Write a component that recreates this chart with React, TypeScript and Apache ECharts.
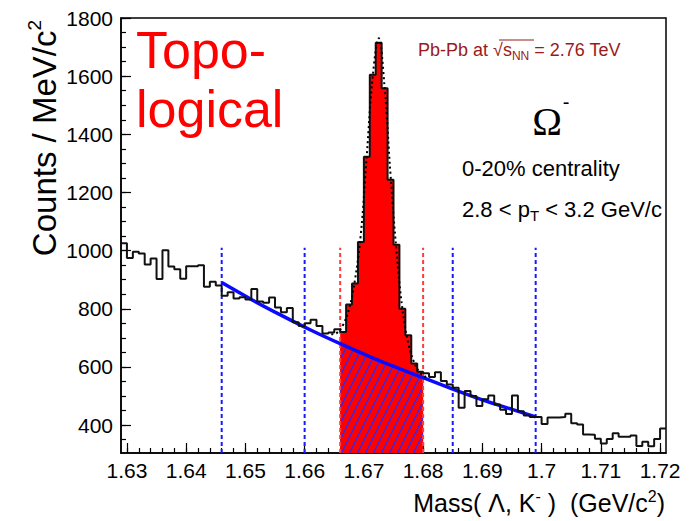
import React, { useEffect, useRef } from 'react';
import * as echarts from 'echarts';

// ---- data ----
const binStart = 1.629;
const binWidth = 0.001;
const counts = [
  1025, 975, 996, 990, 952, 973, 902, 1001, 945, 936,
  903, 946, 946, 950, 876, 893, 880, 845, 857, 835,
  840, 832, 868, 825, 821, 839, 804, 788, 803, 754,
  741, 750, 762, 741, 715, 718, 730, 720, 815, 887,
  1030, 1323, 1605, 1715, 1558, 1244, 1020, 800, 709, 612,
  583, 578, 565, 582, 552, 540, 528, 460, 517, 500,
  466, 489, 502, 471, 453, 438, 502, 448, 433, 428,
  428, 404, 426, 426, 428, 439, 406, 402, 368, 367,
  353, 337, 352, 372, 360, 360, 364, 328, 343, 327,
  352, 388,
];
const signalFirstBin = 37;
const signalLastBin = 50;

const bgFitX = [1.646, 1.651, 1.656, 1.661, 1.666, 1.673, 1.68, 1.685, 1.69, 1.695, 1.699];
const bgFitY = [890, 832, 778, 727, 680, 618, 563, 524, 487, 454, 428];

const totalFitX = [1.6645, 1.6655, 1.6665, 1.6675, 1.6685, 1.6695, 1.6705, 1.6715, 1.6725, 1.6735, 1.6745, 1.6755, 1.6765, 1.6775, 1.6785, 1.6795, 1.6805];
const totalFitY = [712, 718, 745, 800, 900, 1060, 1330, 1600, 1730, 1560, 1260, 1000, 800, 680, 615, 580, 565];

const signalEdges = [1.666, 1.68];
const sidebandEdges = [1.646, 1.66, 1.685, 1.699];
const edgeLineTop = 1010;

const xTickLabels = [1.63, 1.64, 1.65, 1.66, 1.67, 1.68, 1.69, 1.7, 1.71, 1.72];
const yTickLabels = [400, 600, 800, 1000, 1200, 1400, 1600, 1800];

const X_MIN = 1.629;
const X_MAX = 1.721;
const Y_MIN = 304;
const Y_MAX = 1800;

const FONT = '"Liberation Sans", Arial, Helvetica, sans-serif';

const r4 = (v: number) => Math.round(v * 10000) / 10000;

export default function App() {
  const ref = useRef<HTMLDivElement>(null);

  useEffect(() => {
    if (!ref.current) return;
    const chart = echarts.init(ref.current, undefined, { renderer: 'svg' });

    // histogram outline (bin left edges + closing edge)
    const histData: number[][] = counts.map((c, i) => [r4(binStart + i * binWidth), c]);
    histData.push([r4(binStart + counts.length * binWidth), counts[counts.length - 1]]);

    const sigData: number[][] = [];
    for (let i = signalFirstBin; i <= signalLastBin; i++) sigData.push([r4(binStart + i * binWidth), counts[i]]);
    sigData.push([r4(binStart + (signalLastBin + 1) * binWidth), counts[signalLastBin]]);

    const bgData = bgFitX.map((x, i) => [x, bgFitY[i]]);
    const hatchData = bgData.filter((p) => p[0] >= signalEdges[0] - 1e-9 && p[0] <= signalEdges[1] + 1e-9);
    const totalData = totalFitX.map((x, i) => [x, totalFitY[i]]);

    const xMinor: number[] = [];
    for (let v = 1.63; v <= 1.7201; v += 0.002) xMinor.push(r4(v));
    const yMinor: number[] = [];
    for (let v = 350; v <= 1800; v += 50) yMinor.push(v);

    // hatch tile
    const TW = 8;
    const TH = 16;
    const tile = document.createElement('canvas');
    tile.width = TW;
    tile.height = TH;
    const ctx = tile.getContext('2d')!;
    ctx.fillStyle = '#ff0000';
    ctx.fillRect(0, 0, TW, TH);
    ctx.strokeStyle = '#2a2aff';
    ctx.lineWidth = 1.4;
    for (const dx of [-TW, 0, TW]) {
      ctx.beginPath();
      ctx.moveTo(dx - 0.5, TH + 1);
      ctx.lineTo(dx + TW + 0.5, -1);
      ctx.stroke();
    }

    const vline = (x: number, color: string) => ({
      type: 'line',
      data: [[x, Y_MIN], [x, edgeLineTop]],
      showSymbol: false,
      symbol: 'none',
      silent: true,
      z: 4,
      lineStyle: { color, width: 2, type: [4, 3] },
    });

    const xLabelFmt = (v: number) => String(parseFloat(Number(v).toFixed(3)));
    const yLabelFmt = (v: number) => String(Math.round(Number(v)));

    const axisCommonX = {
      type: 'value',
      min: X_MIN,
      max: X_MAX,
      position: 'bottom',
      splitLine: { show: false },
    };
    const axisCommonY = {
      type: 'value',
      min: Y_MIN,
      max: Y_MAX,
      position: 'left',
      splitLine: { show: false },
    };

    chart.setOption({
      animation: false,
      backgroundColor: '#ffffff',
      grid: {
        left: 121,
        right: 23,
        top: 18,
        bottom: 68,
        show: true,
        borderColor: '#000',
        borderWidth: 1.5,
        backgroundColor: 'transparent',
      },
      xAxis: [
        {
          ...axisCommonX,
          axisLine: { show: true, lineStyle: { color: '#000', width: 1.5 } },
          axisTick: { show: true, inside: true, length: 5, customValues: xMinor, lineStyle: { color: '#000', width: 1.2 } },
          axisLabel: { show: false },
        },
        {
          ...axisCommonX,
          axisLine: { show: false },
          axisTick: { show: true, inside: true, length: 10, customValues: xTickLabels, lineStyle: { color: '#000', width: 1.2 } },
          axisLabel: {
            show: true,
            customValues: xTickLabels,
            formatter: xLabelFmt,
            fontSize: 21,
            fontFamily: FONT,
            color: '#000',
            margin: 7,
          },
        },
      ],
      yAxis: [
        {
          ...axisCommonY,
          axisLine: { show: true, lineStyle: { color: '#000', width: 1.5 } },
          axisTick: { show: true, inside: true, length: 5, customValues: yMinor, lineStyle: { color: '#000', width: 1.2 } },
          axisLabel: { show: false },
        },
        {
          ...axisCommonY,
          axisLine: { show: false },
          axisTick: { show: true, inside: true, length: 10, customValues: yTickLabels, lineStyle: { color: '#000', width: 1.2 } },
          axisLabel: {
            show: true,
            customValues: yTickLabels,
            formatter: yLabelFmt,
            fontSize: 21,
            fontFamily: FONT,
            color: '#000',
            margin: 8,
          },
        },
      ],
      series: [
        {
          type: 'line',
          step: 'end',
          data: sigData,
          showSymbol: false,
          symbol: 'none',
          silent: true,
          z: 2,
          lineStyle: { width: 0 },
          areaStyle: { color: '#ff0000', opacity: 1, origin: 'start' },
        },
        {
          type: 'line',
          data: hatchData,
          showSymbol: false,
          symbol: 'none',
          silent: true,
          z: 3,
          lineStyle: { width: 0 },
          areaStyle: {
            color: { image: tile, repeat: 'repeat', imageWidth: TW, imageHeight: TH },
            opacity: 1,
            origin: 'start',
          },
        },
        ...signalEdges.map((x) => vline(x, '#ff3b3b')),
        ...sidebandEdges.map((x) => vline(x, '#1a1aff')),
        {
          type: 'line',
          data: bgData,
          smooth: 0.3,
          showSymbol: false,
          symbol: 'none',
          silent: true,
          z: 5,
          lineStyle: { color: '#0a0aff', width: 3.5 },
        },
        {
          type: 'line',
          step: 'end',
          data: histData,
          showSymbol: false,
          symbol: 'none',
          silent: true,
          z: 6,
          lineStyle: { color: '#111', width: 2 },
        },
        {
          type: 'line',
          data: totalData,
          smooth: 0.4,
          showSymbol: false,
          symbol: 'none',
          silent: true,
          z: 7,
          lineStyle: { color: '#000', width: 2, type: [2, 3] },
        },
      ],
      graphic: [
        {
          type: 'text',
          x: 136,
          y: 50,
          style: { text: 'Topo-', font: `52px ${FONT}`, fill: '#ff0000', align: 'left', verticalAlign: 'middle' },
        },
        {
          type: 'text',
          x: 136,
          y: 109,
          style: { text: 'logical', font: `52px ${FONT}`, fill: '#ff0000', align: 'left', verticalAlign: 'middle' },
        },
        {
          type: 'text',
          x: 418,
          y: 50,
          style: {
            text: 'Pb-Pb at √s{sub|NN} = 2.76 TeV',
            font: `18px ${FONT}`,
            fill: '#9a1a1a',
            align: 'left',
            verticalAlign: 'middle',
            lineHeight: 24,
            rich: {
              sub: { fontSize: 12, fontFamily: FONT, fill: '#9a1a1a', lineHeight: 15, verticalAlign: 'bottom' },
            },
          },
        },
        {
          type: 'line',
          shape: { x1: 499, y1: 40, x2: 534, y2: 40 },
          style: { stroke: '#9a1a1a', lineWidth: 1 },
        },
        {
          type: 'text',
          x: 547,
          y: 121,
          style: { text: 'Ω', font: `40px "Liberation Serif", "Times New Roman", serif`, fill: '#000', align: 'center', verticalAlign: 'middle' },
        },
        {
          type: 'text',
          x: 566,
          y: 102,
          style: { text: '-', font: `20px ${FONT}`, fill: '#000', align: 'center', verticalAlign: 'middle' },
        },
        {
          type: 'text',
          x: 462,
          y: 168,
          style: { text: '0-20% centrality', font: `22px ${FONT}`, fill: '#000', align: 'left', verticalAlign: 'middle' },
        },
        {
          type: 'text',
          x: 462,
          y: 209,
          style: {
            text: '2.8 < p{sub|T} < 3.2 GeV/c',
            font: `22px ${FONT}`,
            fill: '#000',
            align: 'left',
            verticalAlign: 'middle',
            lineHeight: 28,
            rich: {
              sub: { fontSize: 15, fontFamily: FONT, fill: '#000', lineHeight: 18, verticalAlign: 'bottom' },
            },
          },
        },
        {
          type: 'text',
          x: 665,
          y: 503,
          style: {
            text: 'Mass( Λ, K{sup|-} )  (GeV/c{sup|2})',
            font: `25px ${FONT}`,
            fill: '#000',
            align: 'right',
            verticalAlign: 'middle',
            lineHeight: 30,
            rich: {
              sup: { fontSize: 16, fontFamily: FONT, fill: '#000', lineHeight: 14, verticalAlign: 'top' },
            },
          },
        },
        {
          type: 'text',
          x: 44,
          y: 20,
          rotation: Math.PI / 2,
          style: {
            text: 'Counts / MeV/c{sup|2}',
            font: `33px ${FONT}`,
            fill: '#000',
            align: 'right',
            verticalAlign: 'middle',
            lineHeight: 38,
            rich: {
              sup: { fontSize: 19, fontFamily: FONT, fill: '#000', lineHeight: 18, verticalAlign: 'top' },
            },
          },
        },
      ],
    });

    return () => chart.dispose();
  }, []);

  return (
    <div
      ref={ref}
      style={{ position: 'fixed', left: 0, top: 0, width: 689, height: 521, background: '#fff' }}
    />
  );
}
